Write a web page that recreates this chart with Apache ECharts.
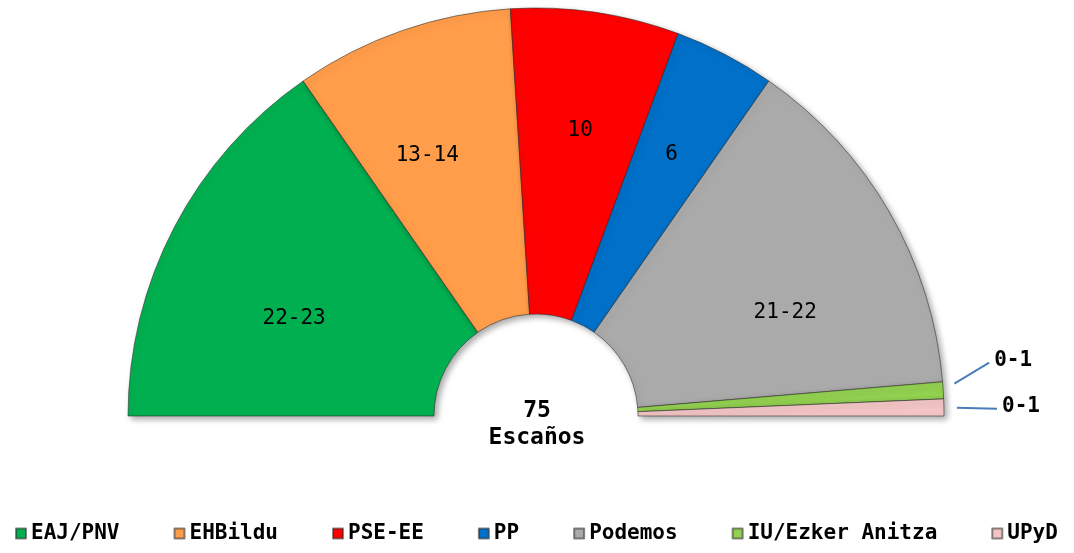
<!DOCTYPE html>
<html>
<head>
<meta charset="utf-8">
<script src="https://cdn.jsdelivr.net/npm/echarts@6/dist/echarts.min.js"></script>
<style>
  html, body { margin: 0; padding: 0; background: #fff; }
  #chart { width: 1074px; height: 553px; }
</style>
</head>
<body>
<div id="chart"></div>
<script>
// escaños por partido (hemiciclo de 75)
const parties = ['EAJ/PNV', 'EHBildu', 'PSE-EE', 'PP', 'Podemos', 'IU/Ezker Anitza', 'UPyD']
const seats = [23, 13, 10, 6, 21, 1, 1]
const seatLabels = ['22-23', '13-14', '10', '6', '21-22', '0-1', '0-1']
const colors = ['#00b050', '#ff9d4a', '#ff0000', '#0070c8', '#aaaaaa', '#92d050', '#f2c4c4']
const totalSeats = 75

const font = 'DejaVu Sans Mono'
const myChart = echarts.init(document.getElementById('chart'))

const total = seats.reduce((a, b) => a + b, 0)
// pequeños ajustes de las etiquetas respecto a la posición por defecto
const labelNudge = [[8, 33], [-16, 6], [3, -6], [5, -12], [5, 38], [9, -29], [16, -6]]

const mainData = parties.map((name, i) => ({
    name: name,
    value: seats[i],
    itemStyle: { color: colors[i] }
}))
// la mitad de abajo, invisible
mainData.push({
    name: '',
    value: total,
    itemStyle: { color: 'transparent', borderWidth: 0, shadowBlur: 0, shadowColor: 'transparent' },
    label: { show: false },
    labelLine: { show: false }
})

const labelData = parties.map((name, i) => {
    const small = seats[i] <= 1
    return {
        name: name,
        value: seats[i],
        label: small ? {
            position: 'outside',
            fontWeight: 'bold',
            distanceToLabelLine: 4
        } : {},
        labelLine: { show: small }
    }
})
labelData.push({ name: '', value: total, label: { show: false }, labelLine: { show: false } })

const option = {
    animation: false,
    color: colors,
    graphic: [
        {
            type: 'text',
            silent: true,
            style: {
                text: totalSeats + '\nEscaños',
                x: 537,
                y: 398,
                textAlign: 'center',
                font: 'bold 23px "' + font + '"',
                lineHeight: 27,
                fill: '#000'
            }
        }
    ],
    legend: {
        data: parties,
        bottom: 4,
        left: 10,
        icon: 'rect',
        itemWidth: 10,
        itemHeight: 10,
        itemGap: 54,
        textStyle: {
            fontFamily: font,
            fontSize: 21,
            fontWeight: 'bold',
            color: '#000'
        }
    },
    series: [
        {
            type: 'pie',
            center: [536, 416],
            radius: [102, 408],
            startAngle: 180,
            clockwise: true,
            silent: true,
            label: { show: false },
            labelLine: { show: false },
            itemStyle: {
                borderColor: 'rgba(40,40,40,0.55)',
                borderWidth: 1,
                shadowBlur: 6,
                shadowOffsetX: 3,
                shadowOffsetY: 3,
                shadowColor: 'rgba(0,0,0,0.35)'
            },
            data: mainData
        },
        {
            // solo etiquetas
            type: 'pie',
            center: [536, 416],
            radius: [150, 408],
            startAngle: 180,
            clockwise: true,
            silent: true,
            legendHoverLink: false,
            itemStyle: { color: 'transparent', borderWidth: 0 },
            label: {
                show: true,
                position: 'inside',
                formatter: p => seatLabels[p.dataIndex],
                fontFamily: font,
                fontSize: 21,
                color: '#000'
            },
            labelLine: {
                length: 12,
                length2: 30,
                lineStyle: { color: '#4a7ebb', width: 2 }
            },
            labelLayout: p => {
                const n = labelNudge[p.dataIndex]
                if (!n) return {}
                const out = { dx: n[0], dy: n[1] }
                const pts = p.labelLinePoints
                if (pts && pts.length) {
                    // línea recta desde cerca del sector hasta la etiqueta desplazada
                    const r = p.labelRect
                    const end = [r.x + n[0] - 5, r.y + n[1] + r.height / 2 + 2]
                    const s0 = pts[0]
                    const dx = end[0] - s0[0], dy = end[1] - s0[1]
                    const len = Math.sqrt(dx * dx + dy * dy)
                    const start = [s0[0] + dx / len * 13, s0[1] + dy / len * 13]
                    out.labelLinePoints = [start, [(start[0] + end[0]) / 2, (start[1] + end[1]) / 2], end]
                }
                return out
            },
            data: labelData
        }
    ]
}

myChart.setOption(option)
</script>
</body>
</html>
